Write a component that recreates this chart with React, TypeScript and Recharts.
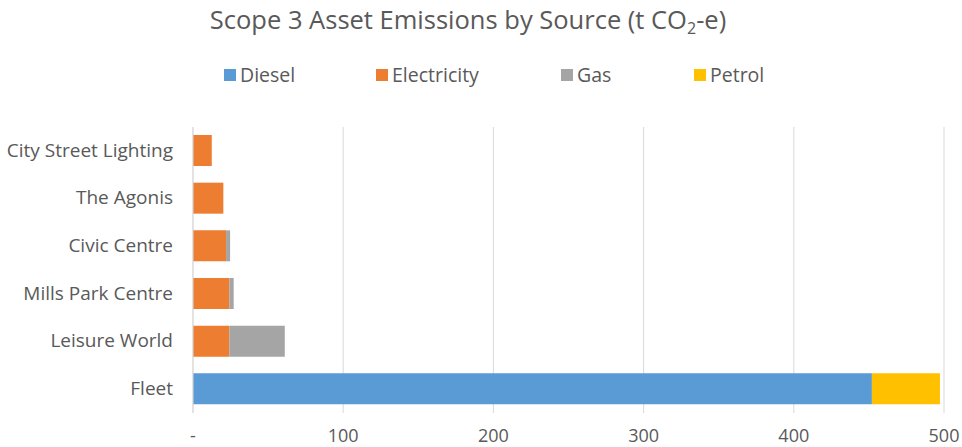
import { BarChart, Bar, XAxis, YAxis, CartesianGrid } from "recharts";

const categories = [
  "City Street Lighting",
  "The Agonis",
  "Civic Centre",
  "Mills Park Centre",
  "Leisure World",
  "Fleet",
];
const diesel = [0, 0, 0, 0, 0, 452];
const electricity = [12.5, 20.2, 22, 24.2, 24.2, 0];
const gas = [0, 0, 2.7, 2.9, 36.9, 0];
const petrol = [0, 0, 0, 0, 0, 45.3];
const xTicks = [0, 100, 200, 300, 400, 500];

const series = [
  { key: "Diesel", color: "#5B9BD5", width: 152 },
  { key: "Electricity", color: "#ED7D31", width: 185 },
  { key: "Gas", color: "#A5A5A5", width: 133 },
  { key: "Petrol", color: "#FFC000", width: 140 },
];

const FONT = "'Open Sans', sans-serif";
const TEXT = "#595959";

export default function App() {
  const data = categories.map((name, i) => ({
    name,
    Diesel: diesel[i],
    Electricity: electricity[i],
    Gas: gas[i],
    Petrol: petrol[i],
  }));

  return (
    <div
      style={{
        position: "absolute",
        left: 0,
        top: 0,
        width: 962,
        height: 447,
        background: "#fff",
        fontFamily: FONT,
        color: TEXT,
      }}
    >
      <div
        style={{
          position: "absolute",
          top: 2,
          left: 0,
          width: 936,
          textAlign: "center",
          fontSize: 25.5,
          whiteSpace: "nowrap",
        }}
      >
        Scope 3 Asset Emissions by Source (t CO<sub style={{ fontSize: 16, verticalAlign: -5 }}>2</sub>-e)
      </div>
      <div
        style={{
          position: "absolute",
          top: 61,
          left: 224,
          display: "flex",
          fontSize: 19.5,
          whiteSpace: "nowrap",
        }}
      >
        {series.map((s) => (
          <div key={s.key} style={{ width: s.width, display: "flex", alignItems: "center" }}>
            <span style={{ width: 12, height: 12, background: s.color, marginRight: 4 }} />
            {s.key}
          </div>
        ))}
      </div>
      <BarChart
        width={962}
        height={447}
        data={data}
        layout="vertical"
        margin={{ top: 127, right: 18, bottom: 0, left: 0 }}
        barSize={31}
      >
        <CartesianGrid horizontal={false} stroke="#d9d9d9" />
        <XAxis
          type="number"
          domain={[0, 500]}
          ticks={xTicks}
          tickFormatter={(v) => (v === 0 ? "-" : String(v))}
          axisLine={false}
          tickLine={false}
          tickMargin={10}
          height={34}
          tick={{ fill: TEXT, fontSize: 18, fontFamily: FONT }}
        />
        <YAxis
          type="category"
          dataKey="name"
          width={193}
          axisLine={{ stroke: "#d9d9d9" }}
          tickLine={false}
          tickMargin={14}
          tick={{ fill: TEXT, fontSize: 19, fontFamily: FONT, dy: -1 }}
        />
        {series.map((s) => (
          <Bar
            key={s.key}
            dataKey={s.key}
            stackId="a"
            fill={s.color}
            isAnimationActive={false}
          />
        ))}
      </BarChart>
    </div>
  );
}
